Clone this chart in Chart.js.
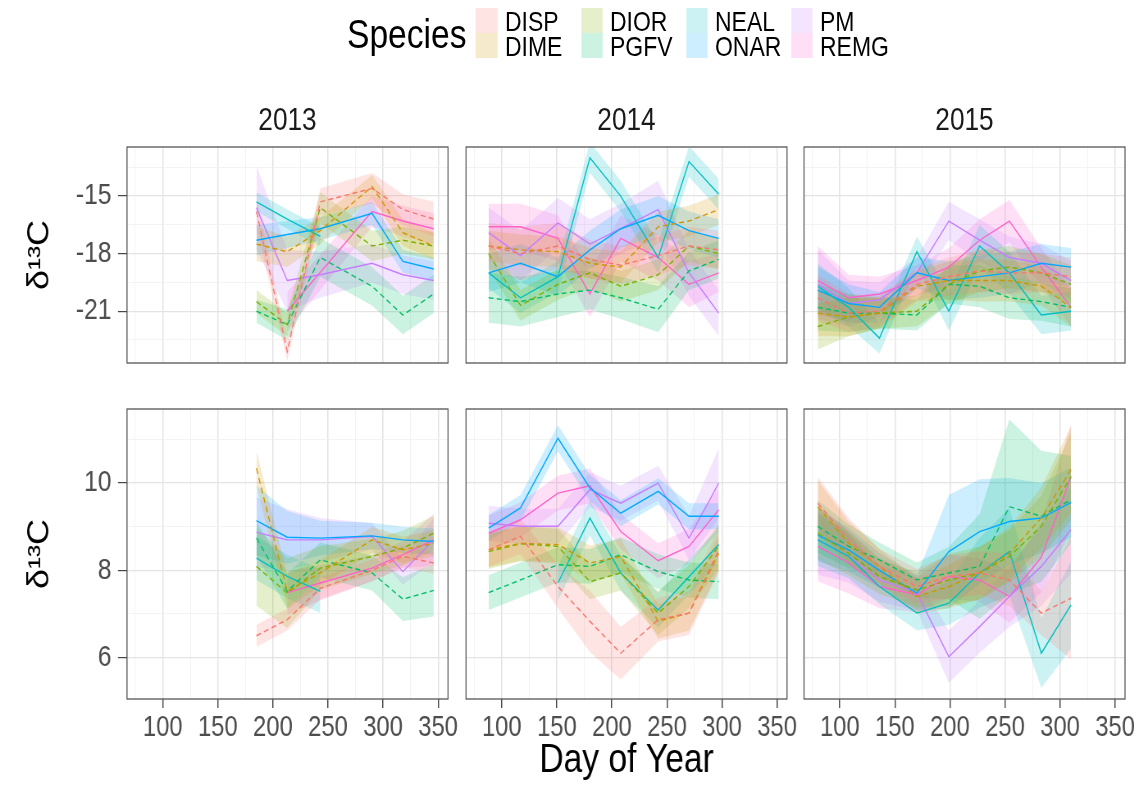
<!DOCTYPE html>
<html><head><meta charset="utf-8">
<script src="https://cdn.jsdelivr.net/npm/chart.js@4.4.1/dist/chart.umd.min.js"></script>
<style>
html,body{margin:0;padding:0;background:#fff;}
body{width:1145px;height:790px;position:relative;overflow:hidden;}
#root{position:absolute;left:0;top:0;height:790px;transform-origin:0 0;font-family:'Liberation Sans',Arial,sans-serif;}
canvas{position:absolute;}
.strip{position:absolute;font-size:32px;color:#1a1a1a;text-align:center;line-height:34px;}
.legtitle{position:absolute;font-size:41px;color:#000;line-height:44px;}
.legkey{position:absolute;height:25px;}
.legtext{position:absolute;font-size:28px;color:#000;line-height:25px;}
</style></head><body>
<div id="root"></div>
<script>
const FONT = "'Liberation Sans',Arial,sans-serif";
const SX = 0.82; // horizontal condensation of the whole figure (narrow type look)
const SPECIES = ['DISP','DIME','DIOR','PGFV','NEAL','ONAR','PM','REMG'];
const COLORS  = ['#F8766D','#CD9600','#7CAE00','#00BE67','#00BFC4','#00A9FF','#C77CFF','#FF61CC'];
const DASHED  = [true,true,true,true,false,false,false,false];
const YEARS = ['2013','2014','2015'];
const Y_TITLE = 'δ¹³C';
const X_TITLE = 'Day of Year';

const DAYS_2013 = [185, 213, 243, 290, 318, 346];
const DAYS_2014 = [88, 117, 151, 180, 208, 242, 270, 297];
const DAYS_2015 = [80, 108, 136, 170, 199, 227, 254, 283, 310];

const X_TICKS = [100, 150, 200, 250, 300, 350];
const X_MINOR = [75, 125, 175, 225, 275, 325];
const TOP_TICKS = [-21, -18, -15];
const TOP_MINOR = [-22.5, -19.5, -16.5, -13.5];
const BOT_TICKS = [6, 8, 10];
const BOT_MINOR = [7, 9, 11];

// ---- top row, 2013 (mean, ribbon half-width) ----
const T13_DISP = [-15.8, -23.1, -15.3, -14.6, -15.7, -16.2];
const T13_DIME = [-17.5, -17.9, -16.8, -14.5, -16.9, -17.6];
const T13_DIOR = [-20.5, -21.7, -15.6, -17.6, -17.3, -17.6];
const T13_PGFV = [-21.0, -21.7, -18.2, -19.7, -21.2, -20.1];
const T13_NEAL = [-15.3, -16.2, -17.1, null, null, null];
const T13_ONAR = [-17.3, -17.0, -16.7, -15.9, -18.4, -18.8];
const T13_PM   = [-15.6, -19.4, -19.1, -18.5, -19.1, -19.4];
const T13_REMG = [null, -21.0, null, -15.8, -16.3, -16.7];
const T13_DISP_W = [0.8, 0.5, 0.7, 0.8, 0.8, 0.9];
const T13_DIME_W = [0.9, 0.8, 0.7, 0.6, 0.7, 0.7];
const T13_DIOR_W = [0.6, 0.6, 0.8, 0.8, 0.7, 0.7];
const T13_PGFV_W = [0.6, 0.8, 1.0, 1.0, 1.0, 1.0];
const T13_NEAL_W = [0.5, 0.5, 0.5, null, null, null];
const T13_ONAR_W = [0.8, 0.7, 0.6, 0.6, 0.6, 0.6];
const T13_PM_W   = [2.2, 1.6, 1.2, 1.0, 1.0, 1.0];
const T13_REMG_W = [null, 1.0, null, 0.8, 0.8, 0.8];

// ---- top row, 2014 ----
const T14_DISP = [-17.6, -18.0, -17.6, -18.3, -18.6, -18.1, -17.6, -17.8];
const T14_DIME = [-17.6, -17.8, -17.9, -18.5, -18.7, -16.6, -16.3, -15.7];
const T14_DIOR = [-18.0, -20.7, -19.6, -19.0, -19.7, -19.1, -17.6, -18.0];
const T14_PGFV = [-20.3, -20.5, -20.1, -19.9, -20.3, -20.9, -18.9, -18.3];
const T14_NEAL = [-19.0, -20.3, -19.2, -13.0, -15.0, -18.2, -13.2, -14.9];
const T14_ONAR = [-19.0, -18.5, -19.2, -17.8, -16.7, -16.0, -16.8, -17.2];
const T14_PM   = [-16.9, -18.1, -16.4, -17.5, -16.7, -15.7, -19.0, -21.1];
const T14_REMG = [-16.6, -16.6, -17.2, -20.1, -17.2, -18.2, -19.6, -19.0];
const T14_DISP_W = [1.2, 1.4, 1.2, 1.0, 1.0, 1.0, 1.0, 1.0];
const T14_DIME_W = [0.8, 0.8, 0.8, 0.8, 0.8, 0.8, 0.8, 0.8];
const T14_DIOR_W = [0.8, 0.8, 0.8, 0.8, 0.8, 0.8, 0.8, 0.8];
const T14_PGFV_W = [1.3, 1.3, 1.2, 1.0, 1.1, 1.2, 1.0, 1.0];
const T14_NEAL_W = [0.8, 0.8, 0.8, 0.8, 0.8, 0.8, 0.8, 0.8];
const T14_ONAR_W = [1.0, 1.0, 1.0, 1.0, 1.0, 1.0, 1.0, 1.0];
const T14_PM_W   = [1.3, 1.3, 1.3, 1.3, 1.3, 1.5, 1.2, 1.2];
const T14_REMG_W = [1.2, 1.2, 1.2, 1.2, 1.2, 1.2, 1.2, 1.0];

// ---- top row, 2015 ----
const T15_DISP = [-20.3, -21.1, -21.0, -19.6, -19.2, -18.9, -19.0, -19.0, -19.2];
const T15_DIME = [-21.1, -21.3, -21.1, -19.7, -19.4, -19.4, -19.4, -19.7, -20.8];
const T15_DIOR = [-21.8, -21.3, -21.1, -21.0, -19.6, -18.9, -18.7, -19.0, -19.6];
const T15_PGFV = [-20.8, -21.1, -21.1, -21.2, -19.6, -19.7, -20.3, -20.5, -20.8];
const T15_NEAL = [-19.7, -20.8, -22.4, -17.9, -21.0, -17.6, -19.0, -21.2, -21.0];
const T15_ONAR = [-19.9, -20.6, -20.8, -19.0, -19.4, -19.2, -19.0, -18.5, -18.7];
const T15_PM   = [-19.6, -20.6, -20.4, -19.0, -16.3, -17.3, -18.2, -18.5, -19.4];
const T15_REMG = [-19.4, -20.3, -20.1, -19.4, -18.7, -17.3, -16.3, -18.7, -20.8];
const T15_DISP_W = [1.2, 1.0, 0.8, 0.8, 1.0, 1.1, 1.1, 1.0, 1.0];
const T15_DIME_W = [1.2, 1.0, 0.8, 0.8, 1.0, 1.1, 1.1, 1.0, 1.0];
const T15_DIOR_W = [1.2, 1.0, 0.8, 0.8, 1.0, 1.1, 1.1, 1.0, 1.0];
const T15_PGFV_W = [1.2, 1.0, 0.8, 0.8, 1.0, 1.1, 1.1, 1.0, 1.0];
const T15_NEAL_W = [1.2, 1.0, 0.8, 0.8, 1.0, 1.1, 1.1, 1.0, 1.0];
const T15_ONAR_W = [1.2, 1.0, 0.8, 0.8, 1.0, 1.1, 1.1, 1.0, 1.0];
const T15_PM_W   = [1.8, 1.2, 0.9, 0.8, 1.0, 1.1, 1.1, 1.0, 1.0];
const T15_REMG_W = [1.8, 1.2, 0.9, 0.8, 1.0, 1.1, 1.1, 1.0, 1.0];

// ---- bottom row, 2013 ----
const B13_DISP = [6.50, 6.87, 7.59, 8.00, 8.32, 8.17];
const B13_DIME = [10.34, 7.52, 7.94, 8.70, 8.47, 8.62];
const B13_DIOR = [8.09, 7.48, 8.05, 8.32, 8.51, 8.85];
const B13_PGFV = [8.74, 7.52, 8.24, 7.94, 7.34, 7.54];
const B13_NEAL = [8.28, 7.86, 7.52, null, null, null];
const B13_ONAR = [9.14, 8.76, 8.74, 8.79, 8.70, 8.66];
const B13_PM   = [8.87, 8.70, 8.70, 8.78, 7.97, 8.70];
const B13_REMG = [null, 7.49, 7.71, 8.05, 8.36, 8.70];
const B13_DISP_W = [0.25, 0.25, 0.25, 0.25, 0.25, 0.25];
const B13_DIME_W = [0.4, 0.4, 0.3, 0.3, 0.3, 0.3];
const B13_DIOR_W = [0.9, 0.8, 0.5, 0.4, 0.4, 0.4];
const B13_PGFV_W = [0.4, 0.4, 0.4, 0.4, 0.5, 0.6];
const B13_NEAL_W = [0.5, 0.5, 0.5, null, null, null];
const B13_ONAR_W = [0.8, 0.6, 0.4, 0.3, 0.3, 0.3];
const B13_PM_W   = [0.8, 0.7, 0.5, 0.3, 0.3, 0.5];
const B13_REMG_W = [null, 0.5, 0.4, 0.3, 0.3, 0.6];

// ---- bottom row, 2014 ----
const B14_DISP = [8.47, 8.78, 7.63, 6.83, 6.10, 6.87, 7.02, 8.47];
const B14_DIME = [8.47, 8.62, 8.59, 8.17, 8.32, 6.83, 7.02, 8.39];
const B14_DIOR = [8.43, 8.61, 8.55, 7.74, 7.94, 7.02, 7.63, 8.55];
const B14_PGFV = [7.49, 7.78, 8.13, 8.09, 8.36, 7.97, 7.78, 7.74];
const B14_NEAL = [null, null, 7.71, 9.20, 7.94, 7.09, null, 8.59];
const B14_ONAR = [8.97, 9.43, 11.03, 9.89, 9.31, 9.81, 9.24, 9.24];
const B14_PM   = [9.08, 9.01, 9.01, 9.85, 9.54, 10.00, 8.74, 10.00];
const B14_REMG = [8.85, 9.16, 9.77, 9.94, 8.89, 8.22, 8.55, 9.39];
const B14_DISP_W = [0.4, 0.4, 0.5, 0.7, 0.6, 0.5, 0.5, 0.5];
const B14_DIME_W = [0.4, 0.4, 0.4, 0.4, 0.4, 0.4, 0.4, 0.4];
const B14_DIOR_W = [0.4, 0.4, 0.4, 0.4, 0.4, 0.5, 0.5, 0.5];
const B14_PGFV_W = [0.4, 0.4, 0.4, 0.4, 0.4, 0.4, 0.4, 0.4];
const B14_NEAL_W = [null, null, 0.4, 0.4, 0.4, 0.4, null, 0.4];
const B14_ONAR_W = [0.3, 0.3, 0.3, 0.3, 0.3, 0.3, 0.3, 0.3];
const B14_PM_W   = [0.4, 0.4, 0.4, 0.4, 0.4, 0.4, 0.5, 0.8];
const B14_REMG_W = [0.4, 0.4, 0.4, 0.4, 0.4, 0.4, 0.4, 0.5];

// ---- bottom row, 2015 ----
const B15_DISP = [9.54, 8.70, 8.09, 7.63, 7.86, 7.94, 7.78, 7.02, 7.36];
const B15_DIME = [9.46, 8.62, 8.09, 7.40, 7.63, 7.94, 8.39, 9.20, 10.31];
const B15_DIOR = [8.85, 8.39, 7.86, 7.55, 7.78, 7.94, 8.32, 9.01, 10.15];
const B15_PGFV = [9.01, 8.55, 8.24, 7.78, 7.94, 8.09, 9.46, 9.24, 9.62];
const B15_NEAL = [8.70, 8.32, 7.63, 7.02, 7.25, 7.94, 8.43, 6.10, 7.21];
const B15_ONAR = [8.81, 8.47, 8.00, 7.48, 8.43, 8.89, 9.12, 9.20, 9.56];
const B15_PM   = [8.70, 8.32, 7.78, 7.48, 6.02, 6.71, 7.40, 8.09, 8.93];
const B15_REMG = [8.55, 8.17, 7.63, 7.44, 7.86, 7.78, 7.40, 8.30, 10.15];
const B15_DISP_W = [0.6, 0.5, 0.4, 0.4, 0.5, 0.5, 0.6, 0.5, 1.4];
const B15_DIME_W = [0.6, 0.5, 0.4, 0.4, 0.5, 0.6, 0.6, 0.7, 1.0];
const B15_DIOR_W = [0.6, 0.5, 0.4, 0.4, 0.6, 0.6, 0.6, 0.7, 1.0];
const B15_PGFV_W = [0.6, 0.5, 0.4, 0.4, 0.6, 1.2, 2.0, 1.5, 1.0];
const B15_NEAL_W = [0.6, 0.5, 0.4, 0.4, 0.5, 0.8, 1.0, 0.8, 1.0];
const B15_ONAR_W = [0.6, 0.5, 0.4, 0.4, 1.3, 1.2, 1.0, 0.8, 0.8];
const B15_PM_W   = [0.8, 0.6, 0.5, 0.4, 0.6, 0.6, 0.7, 0.9, 1.0];
const B15_REMG_W = [0.8, 0.7, 0.5, 0.4, 0.5, 0.5, 0.6, 0.8, 1.2];

// ---------------- assembly ----------------
const PANELS = [
  {row:0, col:0, days:DAYS_2013, mean:[T13_DISP,T13_DIME,T13_DIOR,T13_PGFV,T13_NEAL,T13_ONAR,T13_PM,T13_REMG], w:[T13_DISP_W,T13_DIME_W,T13_DIOR_W,T13_PGFV_W,T13_NEAL_W,T13_ONAR_W,T13_PM_W,T13_REMG_W]},
  {row:0, col:1, days:DAYS_2014, mean:[T14_DISP,T14_DIME,T14_DIOR,T14_PGFV,T14_NEAL,T14_ONAR,T14_PM,T14_REMG], w:[T14_DISP_W,T14_DIME_W,T14_DIOR_W,T14_PGFV_W,T14_NEAL_W,T14_ONAR_W,T14_PM_W,T14_REMG_W]},
  {row:0, col:2, days:DAYS_2015, mean:[T15_DISP,T15_DIME,T15_DIOR,T15_PGFV,T15_NEAL,T15_ONAR,T15_PM,T15_REMG], w:[T15_DISP_W,T15_DIME_W,T15_DIOR_W,T15_PGFV_W,T15_NEAL_W,T15_ONAR_W,T15_PM_W,T15_REMG_W]},
  {row:1, col:0, days:DAYS_2013, mean:[B13_DISP,B13_DIME,B13_DIOR,B13_PGFV,B13_NEAL,B13_ONAR,B13_PM,B13_REMG], w:[B13_DISP_W,B13_DIME_W,B13_DIOR_W,B13_PGFV_W,B13_NEAL_W,B13_ONAR_W,B13_PM_W,B13_REMG_W]},
  {row:1, col:1, days:DAYS_2014, mean:[B14_DISP,B14_DIME,B14_DIOR,B14_PGFV,B14_NEAL,B14_ONAR,B14_PM,B14_REMG], w:[B14_DISP_W,B14_DIME_W,B14_DIOR_W,B14_PGFV_W,B14_NEAL_W,B14_ONAR_W,B14_PM_W,B14_REMG_W]},
  {row:1, col:2, days:DAYS_2015, mean:[B15_DISP,B15_DIME,B15_DIOR,B15_PGFV,B15_NEAL,B15_ONAR,B15_PM,B15_REMG], w:[B15_DISP_W,B15_DIME_W,B15_DIOR_W,B15_PGFV_W,B15_NEAL_W,B15_ONAR_W,B15_PM_W,B15_REMG_W]},
];

// layout, in final-picture pixels; converted to the pre-condensed frame with px()
const px = v => v / SX;
const PANEL_L = [127, 466, 804].map(px), PANEL_R = [448, 787, 1125].map(px);
const PANEL_T = [147, 409], PANEL_B = [363, 699];
const X_RANGE = [67.5, 359];
const Y_RANGE = [[-23.7, -12.44], [5.05, 11.70]];

const root = document.getElementById('root');
root.style.width = px(1145) + 'px';
root.style.transform = `scaleX(${SX})`;

function rgba(hex, a) {
  const n = parseInt(hex.slice(1), 16);
  return `rgba(${(n>>16)&255},${(n>>8)&255},${n&255},${a})`;
}

const borderPlugin = {
  id: 'panelBorder',
  afterDraw(chart) {
    const {ctx, chartArea: a} = chart;
    ctx.save();
    ctx.strokeStyle = '#555555';
    ctx.lineWidth = 1.3;
    ctx.strokeRect(a.left, a.top, a.right - a.left, a.bottom - a.top);
    ctx.restore();
  }
};

function zeroPad(s) { s.paddingTop = 0; s.paddingBottom = 0; s.paddingLeft = 0; s.paddingRight = 0; }

PANELS.forEach(p => {
  const {row, col} = p;
  const x0 = col === 0 ? 0 : Math.round(PANEL_L[col]) - 3;
  const padL = col === 0 ? 0 : PANEL_L[col] - x0;
  const x1 = Math.round(PANEL_R[col]) + 30;
  const padR = x1 - PANEL_R[col];
  const y0 = PANEL_T[row] - 3;
  const y1 = row === 0 ? PANEL_B[row] + 3 : 790;
  const padB = row === 0 ? 3 : 0;
  const xAxisH = row === 0 ? 0 : 790 - PANEL_B[1];
  const yAxisW = col === 0 ? PANEL_L[0] : 0;
  const W = x1 - x0, H = y1 - y0;

  const cv = document.createElement('canvas');
  cv.width = W; cv.height = H;
  cv.style.left = x0 + 'px'; cv.style.top = y0 + 'px';
  cv.style.width = W + 'px'; cv.style.height = H + 'px';
  root.appendChild(cv);

  const ribbons = [], lines = [];
  SPECIES.forEach((sp, i) => {
    const hi = [], lo = [], ln = [];
    p.days.forEach((d, k) => {
      const m = p.mean[i][k];
      if (m === null || m === undefined) return;
      const w = p.w[i][k];
      ln.push({x: d, y: m});
      hi.push({x: d, y: m + w});
      lo.push({x: d, y: m - w});
    });
    ribbons.push({label: sp + ' hi', data: hi, borderColor: 'rgba(0,0,0,0)', borderWidth: 0, pointRadius: 0, fill: false, tension: 0});
    ribbons.push({label: sp + ' lo', data: lo, borderColor: 'rgba(0,0,0,0)', borderWidth: 0, pointRadius: 0, fill: '-1', backgroundColor: rgba(COLORS[i], 0.2), tension: 0});
    lines.push({label: sp, data: ln, borderColor: COLORS[i], borderWidth: 1.4, borderDash: DASHED[i] ? [6, 4] : [], pointRadius: 0, fill: false, tension: 0});
  });

  const yTicksMajor = row === 0 ? TOP_TICKS : BOT_TICKS;
  const yTicksMinor = row === 0 ? TOP_MINOR : BOT_MINOR;
  const yAll = [...yTicksMinor, ...yTicksMajor].sort((a, b) => a - b);
  const xAll = [...X_MINOR, ...X_TICKS].sort((a, b) => a - b);
  const isMajX = v => X_TICKS.includes(v);
  const isMajY = v => yTicksMajor.includes(v);

  new Chart(cv, {
    type: 'line',
    data: {datasets: [...ribbons, ...lines]},
    plugins: [borderPlugin],
    options: {
      responsive: false,
      maintainAspectRatio: false,
      animation: false,
      events: [],
      layout: {padding: {left: padL, right: padR, top: 3, bottom: padB}},
      plugins: {
        legend: {display: false},
        tooltip: {enabled: false},
        filler: {drawTime: 'beforeDatasetsDraw', propagate: false}
      },
      scales: {
        x: {
          type: 'linear',
          min: X_RANGE[0], max: X_RANGE[1],
          afterBuildTicks: s => { s.ticks = xAll.map(v => ({value: v})); },
          afterFit: s => { s.height = xAxisH; zeroPad(s); },
          ticks: {
            display: row === 1,
            autoSkip: false, maxRotation: 0, minRotation: 0,
            padding: 3,
            color: '#4d4d4d',
            font: {family: FONT, size: 29},
            callback: v => isMajX(v) ? String(v) : ''
          },
          grid: {
            color: c => isMajX(c.tick.value) ? '#e3e3e3' : '#f0f0f0',
            lineWidth: c => isMajX(c.tick.value) ? 1.5 : 0.9,
            drawTicks: row === 1,
            tickLength: 9,
            tickColor: c => isMajX(c.tick.value) ? '#333333' : 'rgba(0,0,0,0)',
            tickWidth: 1.3
          },
          border: {display: false},
          title: {
            display: row === 1 && col === 1,
            text: X_TITLE,
            color: '#000',
            font: {family: FONT, size: 41},
            padding: {top: 0, bottom: 5}
          }
        },
        y: {
          type: 'linear',
          min: Y_RANGE[row][0], max: Y_RANGE[row][1],
          afterBuildTicks: s => { s.ticks = yAll.map(v => ({value: v})); },
          afterFit: s => { s.width = yAxisW; zeroPad(s); },
          ticks: {
            display: col === 0,
            autoSkip: false,
            padding: 8,
            color: '#4d4d4d',
            font: {family: FONT, size: 30},
            callback: v => isMajY(v) ? String(v) : ''
          },
          grid: {
            color: c => isMajY(c.tick.value) ? '#e3e3e3' : '#f0f0f0',
            lineWidth: c => isMajY(c.tick.value) ? 1.3 : 0.8,
            drawTicks: col === 0,
            tickLength: 11,
            tickColor: c => isMajY(c.tick.value) ? '#333333' : 'rgba(0,0,0,0)',
            tickWidth: 1.1
          },
          border: {display: false},
          title: {
            display: col === 0,
            text: Y_TITLE,
            color: '#000',
            font: {family: FONT, size: 36},
            padding: {top: 27}
          }
        }
      }
    }
  });
});

// strip labels
YEARS.forEach((yr, c) => {
  const d = document.createElement('div');
  d.className = 'strip';
  d.textContent = yr;
  d.style.left = PANEL_L[c] + 'px';
  d.style.width = (PANEL_R[c] - PANEL_L[c]) + 'px';
  d.style.top = '102px';
  root.appendChild(d);
});

// legend
const lt = document.createElement('div');
lt.className = 'legtitle';
lt.textContent = 'Species';
lt.style.left = px(347) + 'px'; lt.style.top = '12px';
root.appendChild(lt);
SPECIES.forEach((sp, i) => {
  const colIdx = Math.floor(i / 2), rowIdx = i % 2;
  const kx = px(476 + colIdx * 105), ky = 8 + rowIdx * 25;
  const k = document.createElement('div');
  k.className = 'legkey';
  k.style.left = kx + 'px'; k.style.top = ky + 'px';
  k.style.width = px(22) + 'px';
  k.style.background = rgba(COLORS[i], 0.2);
  root.appendChild(k);
  const t = document.createElement('div');
  t.className = 'legtext';
  t.textContent = sp;
  t.style.left = (kx + px(29)) + 'px'; t.style.top = (ky + 1) + 'px';
  root.appendChild(t);
});
</script>
</body></html>
